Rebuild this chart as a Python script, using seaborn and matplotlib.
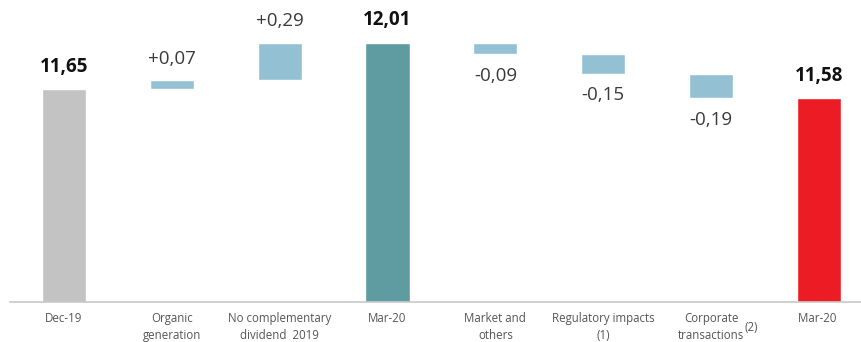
import matplotlib
matplotlib.use("Agg")
import matplotlib.pyplot as plt
import seaborn as sns
import pandas as pd
import numpy as np

sns.set_theme(style="white")
plt.rcParams['font.family'] = ['Open Sans', 'DejaVu Sans']

# Data
categories = ["Dec-19", "Organic\ngeneration", "No complementary\ndividend  2019", "Mar-20",
              "Market and\nothers", "Regulatory impacts\n(1)", "Corporate\ntransactions", "Mar-20 "]
changes = [11.65, 0.07, 0.29, 12.01, -0.09, -0.15, -0.19, 11.58]
kinds = ["total", "delta", "delta", "total", "delta", "delta", "delta", "total"]
value_labels = ["11,65", "+0,07", "+0,29", "12,01", "-0,09", "-0,15", "-0,19", "11,58"]
footnote_label = "(2)"
bar_colors = ["#c3c3c3", "#93c1d3", "#93c1d3", "#5e9ca1", "#93c1d3", "#93c1d3", "#93c1d3", "#ec1c24"]

axis_floor = 10.0

# compute waterfall bottoms/tops
bottoms, tops = [], []
running = 0.0
for v, k in zip(changes, kinds):
    if k == "total":
        running = v
        bottoms.append(axis_floor)
        tops.append(v)
    else:
        start = running
        running = round(running + v, 4)
        bottoms.append(min(start, running))
        tops.append(max(start, running))

df = pd.DataFrame({"cat": categories, "bottom": bottoms, "top": tops})
df["height"] = df["top"] - df["bottom"]

fig = plt.figure(figsize=(8.61, 3.42), dpi=100)
ax = fig.add_axes([10 / 861, 40 / 342, 851 / 861, 300 / 342])

sns.barplot(data=df, x="cat", y="height", hue="cat", palette=bar_colors, legend=False,
            width=0.41, ax=ax, saturation=1)
for patch, b in zip(ax.patches, df["bottom"]):
    patch.set_y(b)

ax.set_ylim(axis_floor, 12.326)
ax.set_xlim(-0.5, 7.39)

for i, (lab, k, v) in enumerate(zip(value_labels, kinds, changes)):
    if k == "total":
        ax.annotate(lab, (i, tops[i]), xytext=(0, 9), textcoords="offset points",
                    ha="center", va="bottom", fontsize=13.5, fontweight="bold", color="#111111")
    elif v > 0:
        ax.annotate(lab, (i, tops[i]), xytext=(0, 9), textcoords="offset points",
                    ha="center", va="bottom", fontsize=13.5, color="#3a3a3a")
    else:
        ax.annotate(lab, (i, bottoms[i]), xytext=(0, -9), textcoords="offset points",
                    ha="center", va="top", fontsize=13.5, color="#3a3a3a")

# footnote marker next to "transactions" (raised like a superscript)
ax.annotate(footnote_label, xy=(6, 0), xycoords=("data", "axes fraction"),
            xytext=(24, -14), textcoords="offset points", ha="left", va="top",
            fontsize=8.3, color="#555555")

ax.set_xlabel("")
ax.set_ylabel("")
ax.set_yticks([])
ax.tick_params(axis="x", length=0, pad=7, labelsize=8.3, labelcolor="#555555")
for t in ax.get_xticklabels():
    t.set_linespacing(1.4)
for s in ["left", "right", "top"]:
    ax.spines[s].set_visible(False)
ax.spines["bottom"].set_color("#c8c8c8")
ax.spines["bottom"].set_linewidth(1.2)

fig.savefig("out.png", dpi=100)
